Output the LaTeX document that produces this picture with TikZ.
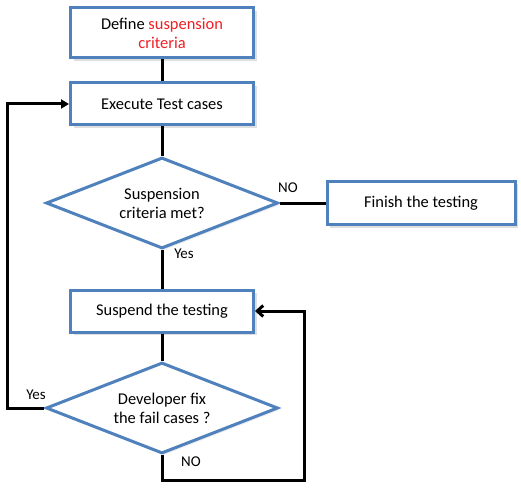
\documentclass[tikz,border=0pt]{standalone}
\usepackage{fontspec}
\setmainfont{Carlito}
\usetikzlibrary{shapes.geometric}
\usetikzlibrary{arrows.meta,shadows}
\definecolor{boxblue}{HTML}{4F81BD}
\definecolor{critred}{HTML}{F01E23}

\begin{document}
\begin{tikzpicture}[x=1bp,y=-1bp,
    every node/.style={font=\fontsize{16.5}{19}\selectfont},
    stepbox/.style={draw=boxblue, fill=white, line width=3bp,
        minimum width=183bp, minimum height=42bp, align=center, inner sep=2bp,
        drop shadow={opacity=0.25, shadow xshift=3bp, shadow yshift=-3bp}},
    askbox/.style={diamond, draw=boxblue, fill=white, line width=3bp,
        minimum width=232bp, minimum height=91bp, aspect=2.5, inner sep=0pt, align=center,
        drop shadow={opacity=0.15, shadow xshift=2bp, shadow yshift=-2bp}},
    link/.style={line width=3bp, black},
    tag/.style={font=\fontsize{15}{17}\selectfont, inner sep=1bp}]
    \useasboundingbox (0,0) rectangle (521,488);
    % Boxes of the main column
    \node[stepbox, minimum height=50bp] (define) at (162,33)
        {Define \textcolor{critred}{suspension}\\\textcolor{critred}{criteria}};
    \node[stepbox] (execute) at (162,104) {Execute Test cases};
    \node[askbox] (critmet) at (162,203) {Suspension\\criteria met?};
    \node[stepbox] (suspend) at (162,311) {Suspend the testing};
    \node[askbox] (devfix) at (162,408) {Developer fix\\the fail cases ?};
    % Side box
    \node[stepbox, minimum width=188bp, minimum height=43bp] (finish) at (421,203) {Finish the testing};
    %
    % Straight links
    \draw[link] (define) -- (execute);
    \draw[link] (execute) -- (critmet);
    \draw[link] (critmet) -- (suspend);
    \draw[link] (suspend) -- (devfix);
    \draw[link] (critmet.east) -- (finish.west);
    % Loop links
    \draw[link, -{Triangle[length=8bp,width=9bp]}] (devfix.west) -- ++(-37,0) |- (execute.west);
    \draw[link, -{Straight Barb[length=6bp,width=11bp]}] (devfix.south) -- ++(0,25) -| ([xshift=49bp]suspend.east) -- (suspend.east);
    % Answer labels
    \node[tag] (critno) at (288,188) {NO};
    \node[tag] (crityes) at (184,254) {Yes};
    \node[tag] (fixyes) at (36,395) {Yes};
    \node[tag] (fixno) at (191,462) {NO};
\end{tikzpicture}
\end{document}
